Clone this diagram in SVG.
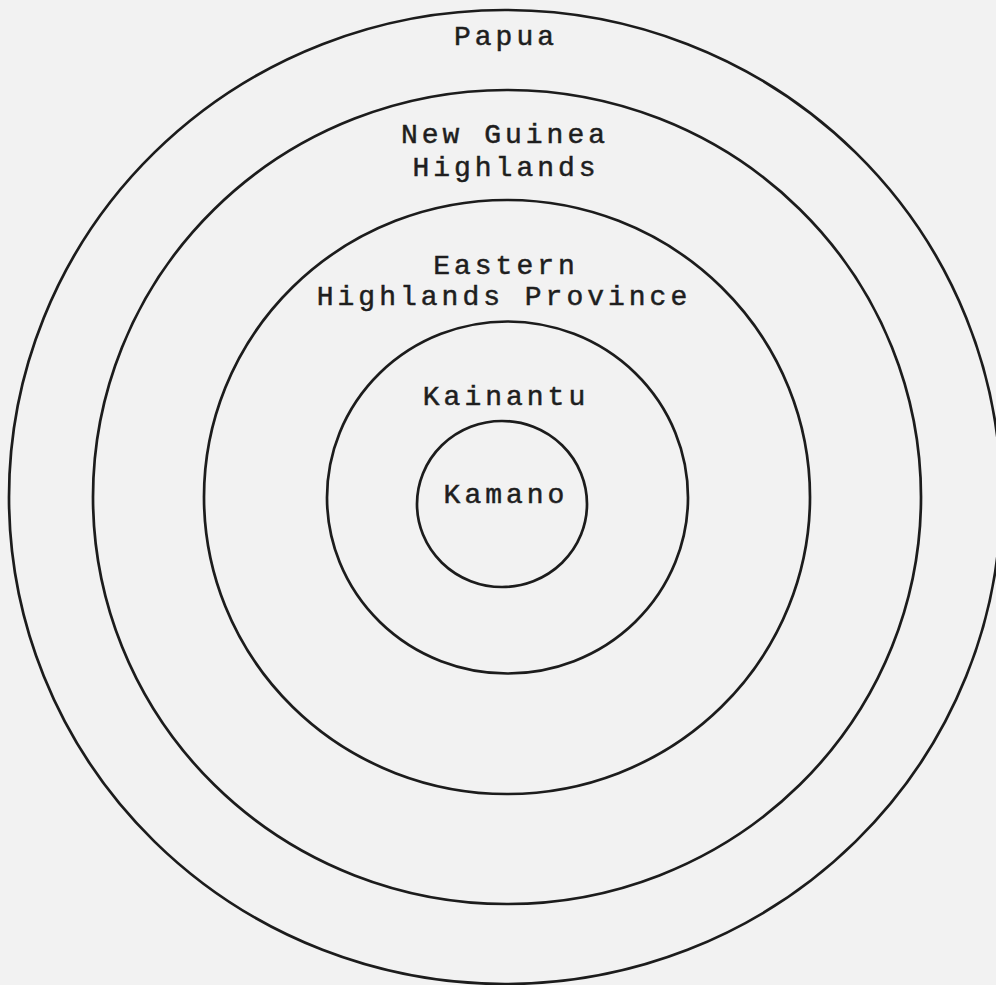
<svg xmlns="http://www.w3.org/2000/svg" width="996" height="985" viewBox="0 0 996 985">
  <style>
    .ring { fill: none; stroke: #1c1c1c; stroke-width: 2.7; }
    .lbl { font-family: "Liberation Mono", "Courier New", monospace; font-size: 28px; letter-spacing: 4px; fill: #1e1e1e; stroke: #1e1e1e; stroke-width: 0.5; text-anchor: middle; }
  </style>
  <rect x="0" y="0" width="996" height="985" fill="#f2f2f2"/>
  <g id="papua">
    <ellipse class="ring" cx="505" cy="497" rx="496" ry="487"/>
    <text class="lbl" x="506" y="45">Papua</text>
  </g>
  <g id="new-guinea-highlands">
    <ellipse class="ring" cx="507" cy="497" rx="414" ry="407"/>
    <text class="lbl" x="505" y="143">New Guinea</text>
    <text class="lbl" x="506" y="176">Highlands</text>
  </g>
  <g id="eastern-highlands-province">
    <ellipse class="ring" cx="507" cy="497" rx="303" ry="297"/>
    <text class="lbl" x="506" y="274">Eastern</text>
    <text class="lbl" x="504" y="305">Highlands Province</text>
  </g>
  <g id="kainantu">
    <ellipse class="ring" cx="507.5" cy="497.5" rx="180.5" ry="176"/>
    <text class="lbl" x="506" y="405">Kainantu</text>
  </g>
  <g id="kamano">
    <ellipse class="ring" cx="502" cy="504" rx="85" ry="83"/>
    <text class="lbl" x="506" y="503">Kamano</text>
  </g>
  <g id="connectors"></g>
</svg>
